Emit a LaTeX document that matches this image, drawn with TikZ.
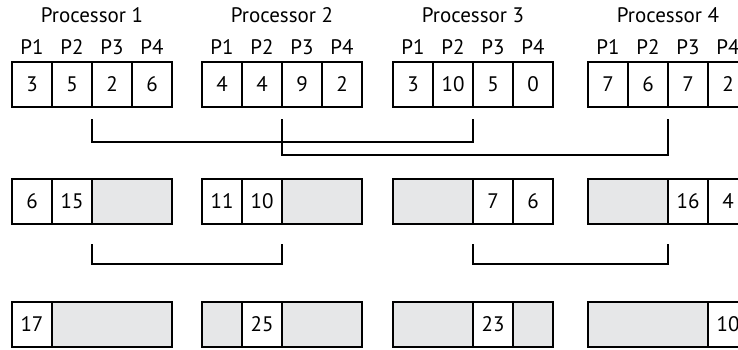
\documentclass[tikz,border=0pt]{standalone}
\usepackage{fontspec}
\setmainfont{PT Sans}
\usetikzlibrary{positioning}
\definecolor{cellgray}{RGB}{230,231,232}
\tikzset{
  cell/.style={draw,line width=0.65pt,minimum width=20pt,minimum height=22.5pt,
    inner sep=0pt,outer sep=0pt,anchor=north west},
  blank/.style={cell,fill=cellgray,minimum width=#1*20pt},
  blank/.default=1,
  lbl/.style={inner sep=0pt},
  link/.style={line width=0.6pt}
}
\begin{document}
\begin{tikzpicture}[x=0.5pt,y=-0.5pt,font=\fontsize{10.5}{12}\selectfont]
        \useasboundingbox (0,0) rectangle (738,349);
        \clip (0,0) rectangle (738,349);
        %% Initial values
        \foreach \p/\x/\vals in {1/12/{3,5,2,6},2/202/{4,4,9,2},3/393/{3,10,5,0},4/588/{7,6,7,2}} {
            \node[lbl] (t\p) at (\x+80,15) {Processor \p};
            \foreach \v [count=\c] in \vals {
                \node[cell] (a\p\c) at (\x+40*\c-40,62) {\v};
                \node[lbl] (h\p\c) at (\x+40*\c-20,47.5) {P\c};
            }
        }
        %% First exchange
        \draw[link] ([yshift=-6pt]a13.south west) -- ([yshift=-17.5pt]a13.south west) -| ([yshift=-6pt]a33.south west);
        \draw[link] ([yshift=-6pt]a23.south west) -- ([yshift=-24pt]a23.south west) -| ([yshift=-6pt]a43.south west);
        %% After first step
        \node[cell] (b11) at (12,179) {6};
        \node[cell,right=0pt of b11] (b12) {15};
        \node[blank=2,right=0pt of b12] (b13) {};
        \node[cell] (b21) at (202,179) {11};
        \node[cell,right=0pt of b21] (b22) {10};
        \node[blank=2,right=0pt of b22] (b23) {};
        \node[blank=2] (b31) at (393,179) {};
        \node[cell,right=0pt of b31] (b32) {7};
        \node[cell,right=0pt of b32] (b33) {6};
        \node[blank=2] (b41) at (588,179) {};
        \node[cell,right=0pt of b41] (b42) {16};
        \node[cell,right=0pt of b42] (b43) {4};
        %% Second exchange
        \draw[link] ([yshift=-10pt]b13.south west) -- ([yshift=-20pt]b13.south west) -| ([yshift=-10pt]b23.south west);
        \draw[link] ([yshift=-10pt]b32.south west) -- ([yshift=-20pt]b32.south west) -| ([yshift=-10pt]b42.south west);
        %% Result
        \node[cell] (c11) at (12,302) {17};
        \node[blank=3,right=0pt of c11] (c12) {};
        \node[blank] (c21) at (202,302) {};
        \node[cell,right=0pt of c21] (c22) {25};
        \node[blank=2,right=0pt of c22] (c23) {};
        \node[blank=2] (c31) at (393,302) {};
        \node[cell,right=0pt of c31] (c32) {23};
        \node[blank,right=0pt of c32] (c33) {};
        \node[blank=3] (c41) at (588,302) {};
        \node[cell,right=0pt of c41] (c42) {10};
\end{tikzpicture}
\end{document}
